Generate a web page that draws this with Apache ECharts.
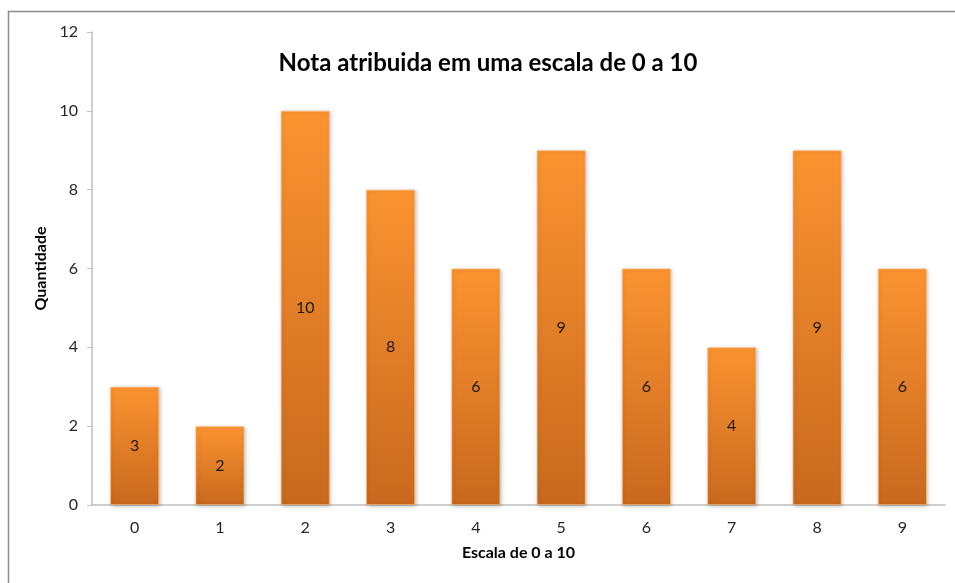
<!DOCTYPE html>
<html><head><meta charset="utf-8">
<script src="https://cdn.jsdelivr.net/npm/echarts@6/dist/echarts.min.js"></script>
<style>html,body{margin:0;padding:0;background:#fff}#c{width:955px;height:583px}</style>
</head><body><div id="c"></div>
<script>
const categories = ['0','1','2','3','4','5','6','7','8','9'];
const values = [3, 2, 10, 8, 6, 9, 6, 4, 9, 6];
const yTicks = [0, 2, 4, 6, 8, 10, 12];
const titleText = 'Nota atribuida em uma escala de 0 a 10';
const xName = 'Escala de 0 a 10';
const yName = 'Quantidade';

const font = 'Lato, "Open Sans", sans-serif';
const chart = echarts.init(document.getElementById('c'), null, {renderer: 'canvas'});
chart.setOption({
  animation: false,
  backgroundColor: '#fff',
  title: {
    text: titleText, left: 483, top: 46, textAlign: 'center',
    textStyle: {fontFamily: font, fontSize: 24, fontWeight: 'bold', color: '#000'}
  },
  graphic: [{
    type: 'rect', shape: {x: 8.5, y: 11.5, width: 1200, height: 800},
    style: {fill: 'none', stroke: '#8c8c8c', lineWidth: 1.5}, silent: true
  }],
  grid: {left: 92, right: 10, top: 32, bottom: 78, containLabel: false},
  xAxis: {
    type: 'category', data: categories,
    name: xName, nameLocation: 'middle', nameGap: 40,
    nameTextStyle: {fontFamily: font, fontSize: 16, fontWeight: 'bold', color: '#000'},
    axisLine: {lineStyle: {color: '#bfbfbf', width: 1.5}},
    axisTick: {show: false},
    axisLabel: {fontFamily: font, fontSize: 16, color: '#262626', margin: 15}
  },
  yAxis: {
    type: 'value', min: yTicks[0], max: yTicks[yTicks.length - 1], interval: 2,
    name: yName, nameLocation: 'middle', nameGap: 42, nameRotate: 90,
    nameTextStyle: {fontFamily: font, fontSize: 16, fontWeight: 'bold', color: '#000'},
    axisLine: {show: true, lineStyle: {color: '#bfbfbf', width: 1.5}},
    axisTick: {show: true, length: 5, lineStyle: {color: '#bfbfbf'}},
    splitLine: {show: false},
    axisLabel: {fontFamily: font, fontSize: 16, color: '#262626', margin: 14}
  },
  series: [{
    type: 'bar', data: values, barWidth: 49,
    itemStyle: {
      color: new echarts.graphic.LinearGradient(0, 0, 0, 1, [
        {offset: 0, color: '#fb9330'},
        {offset: 1, color: '#c8691e'}
      ]),
      borderColor: 'rgba(255,180,110,0.6)', borderWidth: 1,
      shadowColor: 'rgba(0,0,0,0.25)', shadowBlur: 4, shadowOffsetX: 1, shadowOffsetY: 1
    },
    label: {show: true, position: 'inside', fontFamily: font, fontSize: 16, color: '#1a1a1a'}
  }]
});
</script></body></html>
